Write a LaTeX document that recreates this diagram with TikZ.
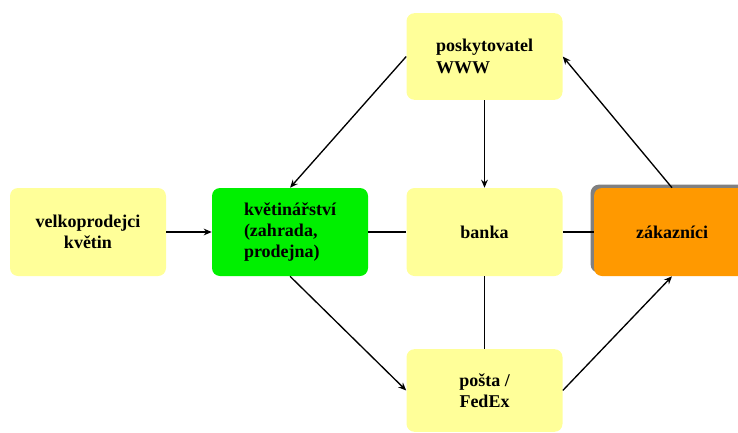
\documentclass[tikz,border=0pt]{standalone}
\usepackage{fontspec}
\setmainfont{Liberation Serif}
\usetikzlibrary{arrows.meta,shadows}
\definecolor{boxyellow}{RGB}{255,255,153}
\definecolor{boxgreen}{RGB}{0,240,0}
\definecolor{boxorange}{RGB}{255,153,0}
\definecolor{shadowgray}{RGB}{128,128,128}
\begin{document}
\begin{tikzpicture}[x=0.75pt,y=-0.75pt,
  box/.style={rounded corners=6pt, minimum width=117pt, minimum height=66pt,
    inner sep=0pt, font=\fontsize{13.5}{16}\selectfont\bfseries, align=center},
  ybox/.style={box, fill=boxyellow},
  link/.style={line width=1pt},
  arr/.style={link, -{Stealth[length=6pt,width=5pt]}}]
\useasboundingbox (0,0) rectangle (738,432);
\clip (0,0) rectangle (738,432);

% boxes
\node[ybox] (velko) at (88,232) {velkoprodejci\\květin};
\node[box, fill=boxgreen, align=left] (kvet) at (290,232) {květinářství\\(zahrada,\\prodejna)};
\node[ybox, align=left, minimum height=65pt] (posk) at (484.5,56.5) {poskytovatel\\WWW};
\node[ybox] (banka) at (484.5,232) {banka};
\node[box, fill=boxorange,
  drop shadow={shadow xshift=-2.5pt, shadow yshift=2.5pt, fill=shadowgray, opacity=1}]
  (zak) at (672,232) {zákazníci};
\node[ybox, minimum height=62pt] (posta) at (484.5,390.5) {pošta /\\FedEx};

% connectors
\draw[arr] (velko) -- (kvet);
\draw[arr] (posk.west) -- (kvet.north);
\draw[arr] (posk) -- (banka);
\draw[link] (kvet) -- (banka);
\draw[link] (banka) -- (zak);
\draw[link] (banka) -- (posta);
\draw[arr] (zak.north) -- (posk.east);
\draw[arr] (kvet.south) -- (posta.west);
\draw[arr] (posta.east) -- (zak.south);
\end{tikzpicture}
\end{document}
